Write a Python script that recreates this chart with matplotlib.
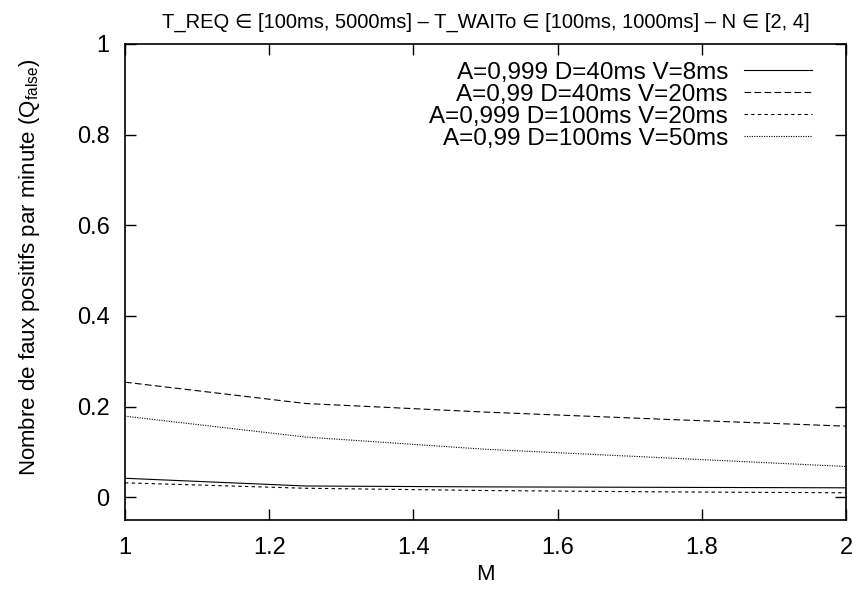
import matplotlib
matplotlib.use("Agg")
import matplotlib.pyplot as plt

plt.rcParams['font.family'] = ['Liberation Sans', 'DejaVu Sans']
plt.rcParams['mathtext.default'] = 'regular'

M = [1.0, 1.25, 1.5, 1.75, 2.0]
labels = ["A=0,999 D=40ms V=8ms", "A=0,99 D=40ms V=20ms",
          "A=0,999 D=100ms V=20ms", "A=0,99 D=100ms V=50ms"]
q_a999_d40 = [0.042, 0.025, 0.023, 0.022, 0.021]
q_a99_d40 = [0.254, 0.207, 0.188, 0.172, 0.157]
q_a999_d100 = [0.032, 0.020, 0.015, 0.012, 0.010]
q_a99_d100 = [0.179, 0.133, 0.106, 0.087, 0.068]

fig = plt.figure(figsize=(8.54, 5.97), dpi=100)
ax = fig.add_axes([0.1464, 0.129, 0.8442, 0.7973])

ax.plot(M, q_a999_d40, color='black', lw=0.8, ls='-', label=labels[0])
ax.plot(M, q_a99_d40, color='black', lw=0.8, ls=(0, (6, 3)), label=labels[1])
ax.plot(M, q_a999_d100, color='black', lw=0.8, ls=(0, (3, 3)), label=labels[2])
ax.plot(M, q_a99_d100, color='black', lw=0.8, ls=(0, (1, 1.2)), label=labels[3])

ax.set_xlim(1, 2)
ax.set_ylim(-0.05, 1)
ax.set_xticks([1, 1.2, 1.4, 1.6, 1.8, 2])
ax.set_xticklabels(['1', '1.2', '1.4', '1.6', '1.8', '2'])
ax.set_yticks([0, 0.2, 0.4, 0.6, 0.8, 1])
ax.set_yticklabels(['0', '0.2', '0.4', '0.6', '0.8', '1'])
ax.tick_params(direction='in', length=8, width=1, top=True, right=True,
               labelsize=17)
ax.tick_params(axis='x', pad=12)
ax.tick_params(axis='y', pad=11)
for s in ax.spines.values():
    s.set_linewidth(1.2)

ax.set_xlabel('M', fontsize=16, labelpad=4)
ax.set_ylabel('Nombre de faux positifs par minute (Q$_{false}$)', fontsize=16)
ax.yaxis.set_label_coords(-0.115, 0.531)
ax.set_title('T_REQ \u2208 [100ms, 5000ms] \u2013 T_WAITo \u2208 [100ms, 1000ms] \u2013 N \u2208 [2, 4]',
             fontsize=14.5, pad=12)

ax.legend(loc='upper right', bbox_to_anchor=(1, 1.034), markerfirst=False,
          frameon=False, fontsize=17.5, handlelength=2.8, labelspacing=0.0,
          handletextpad=0.65, borderaxespad=1.3, borderpad=0.1)

fig.savefig('out.png', dpi=100)
